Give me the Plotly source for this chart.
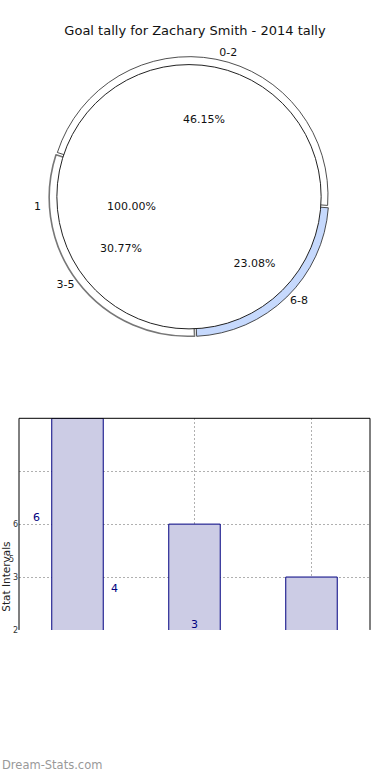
import plotly.graph_objects as go

# ---- data ----
title_text = "Goal tally for Zachary Smith - 2014 tally"
categories = ["0-2", "3-5", "6-8"]
values = [6, 4, 3]
inner_label = ["1"]
inner_value = [13]
slice_colors = ["#ffffff", "#ffffff", "#c6d9fd"]
y_tick_vals = [2, 3, 4, 5, 6]
y_tick_text = ["2", "3", "6", "", ""]
y_title = "Stat Intervals"
watermark = "Dream-Stats.com"

W, H = 390, 780
FONT = "DejaVu Sans"

def px_x(p):
    return p / W

def px_y(p):
    return 1 - p / H

cx, cy = 189, 198
r_out, r_in, r_txt = 141, 133, 157
ROT = -72

fig = go.Figure()

# outer ring
fig.add_trace(go.Pie(
    labels=categories, values=values, sort=False, direction="counterclockwise",
    rotation=ROT, hole=0.9,
    marker=dict(colors=slice_colors,
                line=dict(color=["#222222", "#777777", "#222222"], width=[0.8, 1.6, 0.8])),
    pull=[0.01, 0.01, 0.01],
    textinfo="label", textposition="outside",
    outsidetextfont=dict(family=FONT, size=11, color="#111111"),
    domain=dict(x=[px_x(cx - r_out), px_x(cx + r_out)], y=[px_y(cy + r_out), px_y(cy - r_out)]),
    showlegend=False, hoverinfo="label+percent",
))

# inner full pie
fig.add_trace(go.Pie(
    labels=inner_label, values=inner_value, sort=False,
    marker=dict(colors=["#ffffff"], line=dict(color="#222222", width=1)),
    textinfo="none",
    domain=dict(x=[px_x(cx - r_in), px_x(cx + r_in)], y=[px_y(cy + r_in), px_y(cy - r_in)]),
    showlegend=False, hoverinfo="label+percent",
))

# transparent overlay for percent labels
fig.add_trace(go.Pie(
    labels=categories, values=values, sort=False, direction="counterclockwise",
    rotation=ROT,
    marker=dict(colors=["rgba(0,0,0,0)"] * 3, line=dict(width=0)),
    texttemplate="%{percent:.2%}", textposition="inside",
    insidetextorientation="horizontal",
    insidetextfont=dict(family=FONT, size=11, color="#111111"),
    domain=dict(x=[px_x(cx - r_txt), px_x(cx + r_txt)], y=[px_y(cy + r_txt), px_y(cy - r_txt)]),
    showlegend=False, hoverinfo="skip",
))

# bar chart
fig.add_trace(go.Bar(
    x=categories, y=values, width=0.44,
    marker=dict(color="rgb(204,204,229)", line=dict(color="#000080", width=1)),
    showlegend=False, hoverinfo="x+y",
))

annotations = [
    dict(text=inner_label[0], x=px_x(32), y=px_y(199), xref="paper", yref="paper",
         showarrow=False, font=dict(family=FONT, size=11, color="#111111")),
    dict(text="100.00%", x=px_x(105), y=px_y(199), xref="paper", yref="paper",
         showarrow=False, font=dict(family=FONT, size=11, color="#111111")),
    dict(text="5", x=px_x(16), y=3.34, xref="paper", yref="y", xanchor="right",
         showarrow=False, font=dict(family=FONT, size=8, color="#333333")),
    dict(text=y_title, x=px_x(6.5), y=px_y(581), xref="paper", yref="paper", textangle=-90,
         xanchor="center", yanchor="middle",
         showarrow=False, font=dict(family=FONT, size=10.5, color="#222222")),
    dict(text=watermark, x=0, y=px_y(770), xref="paper", yref="paper", xanchor="left",
         yanchor="middle",
         showarrow=False, font=dict(family=FONT, size=11.5, color="#999999")),
]
# value labels (offset positions as in reference)
label_pos = [(-0.35, 4.13), (0.32, 2.79), (1.0, 2.11)]
for v, (lx, ly) in zip(values, label_pos):
    annotations.append(dict(text=str(v), x=lx, y=ly, xref="x", yref="y", showarrow=False,
                            font=dict(family=FONT, size=11, color="#000080")))

shapes = [
    dict(type="line", xref="x domain", yref="y domain", x0=0, x1=0, y0=0, y1=1,
         line=dict(color="black", width=1)),
    dict(type="line", xref="x domain", yref="y domain", x0=0, x1=1, y0=1, y1=1,
         line=dict(color="black", width=1)),
    dict(type="line", xref="x domain", yref="y domain", x0=1, x1=1, y0=0, y1=1,
         line=dict(color="black", width=1)),
]

fig.update_layout(
    width=W, height=H,
    margin=dict(l=0, r=0, t=0, b=0),
    paper_bgcolor="white", plot_bgcolor="white",
    font=dict(family=FONT),
    title=dict(text=title_text, x=0.5, xanchor="center", y=px_y(30), yanchor="middle",
               yref="container", font=dict(family=FONT, size=13, color="#111111")),
    xaxis=dict(domain=[px_x(19), px_x(370)], range=[-0.5, 2.5], showticklabels=False,
               showgrid=True, gridcolor="#b0b0b0", griddash="2px,2px", gridwidth=1,
               zeroline=False, showline=False, ticks=""),
    yaxis=dict(domain=[px_y(634), px_y(421)], range=[2, 6], tickvals=y_tick_vals,
               ticktext=y_tick_text, showgrid=True, gridcolor="#b0b0b0", griddash="2px,2px",
               gridwidth=1, zeroline=False, showline=False, ticks="",
               tickfont=dict(family=FONT, size=8, color="#333333")),
    annotations=annotations,
    shapes=shapes,
    bargap=0.5,
)

fig.write_html("out.html", config={"displayModeBar": False},
               post_script="document.body.style.margin='0';")
